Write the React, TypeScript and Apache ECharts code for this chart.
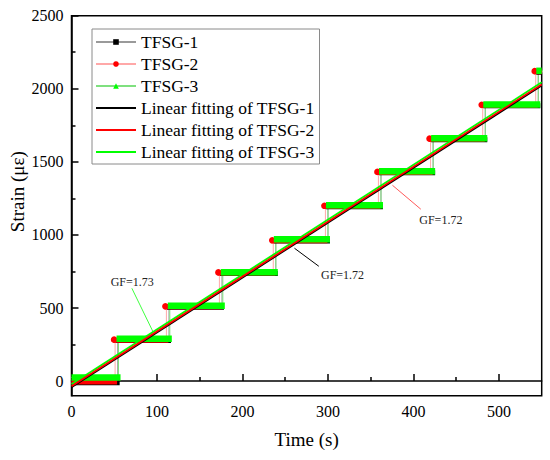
import React, { useEffect, useRef } from "react";
import * as echarts from "echarts";

const FONT = "Liberation Serif";

// axis ticks
const xTicks = [0, 100, 200, 300, 400, 500];
const yTicks = [0, 500, 1000, 1500, 2000, 2500];
const yMinorTicks = [250, 750, 1250, 1750, 2250];

// series names
const seriesNames = ["TFSG-1", "TFSG-2", "TFSG-3"];
const fitNames = [
  "Linear fitting of TFSG-1",
  "Linear fitting of TFSG-2",
  "Linear fitting of TFSG-3",
];

// step jump times (s); last value = end of record
const jumps1 = [0, 54, 114, 176, 239, 300, 362, 423, 484, 546, 553];
const levels1 = [-12, 277, 505, 736, 958, 1192, 1425, 1652, 1884, 2113];
const jumps2 = [0, 51, 111, 173, 236, 297, 359, 420, 481, 543, 553];
const levels2 = [-6, 280, 508, 740, 960, 1196, 1428, 1655, 1887, 2117];
const jumps3 = [0, 55, 115, 177, 239, 300, 362, 423, 484, 546, 553];
const levels3 = [25, 290, 516, 745, 970, 1203, 1435, 1662, 1893, 2123];

// linear fitting end points [time, strain]
const fit1 = [[0, -42], [550, 2022]];
const fit2 = [[0, -36], [550, 2030]];
const fit3 = [[0, -22], [550, 2044]];

// annotation arrows [tail, head] and labels
const arrow1 = [[260.8, 909], [289.3, 785.6]];
const arrow2 = [[375.4, 1340], [408.6, 1176]];
const arrow3 = [[95.5, 335.6], [70.6, 635]];
const gfLabels = ["GF=1.72", "GF=1.72", "GF=1.73"];
const gfPos = [[317, 724], [432, 1105], [71, 675]];

const jumps = [jumps1, jumps2, jumps3];
const levels = [levels1, levels2, levels3];
const fits = [fit1, fit2, fit3];
const arrows = [arrow1, arrow2, arrow3];

const markerColors = ["#000000", "#ff0000", "#00ff00"];
const thinColors = ["#9a9a9a", "#ffa8a8", "#7fe07f"];
const fitColors = ["#000000", "#ff0000", "#00ff00"];
const arrowColors = ["#000000", "#ff5a5a", "#40ff40"];
const symbols = ["rect", "circle", "triangle"];
const bandH = [5, 5, 6.5];

function stepPath(idx: number) {
  const j = jumps[idx];
  const l = levels[idx];
  const pts: number[][] = [];
  for (let i = 0; i < l.length; i++) {
    pts.push([j[i], l[i]]);
    pts.push([j[i + 1], l[i]]);
  }
  return pts;
}

function bandSeries(idx: number) {
  const j = jumps[idx];
  const l = levels[idx];
  const color = markerColors[idx];
  return {
    type: "custom",
    name: seriesNames[idx] + " band",
    data: l.map((v, i) => [j[i], j[i + 1], v]),
    encode: { x: [0, 1], y: 2 },
    z: 3 + idx,
    silent: true,
    renderItem: (params: any, api: any) => {
      const s = api.value(0);
      const e = api.value(1);
      const v = api.value(2);
      const p1 = api.coord([s, v]);
      const p2 = api.coord([e, v]);
      const cs = params.coordSys;
      const h = bandH[idx];
      const rect = echarts.graphic.clipRectByRect(
        { x: p1[0] - 2, y: p1[1] - h / 2, width: p2[0] - p1[0] + 4, height: h },
        { x: cs.x, y: cs.y, width: cs.width, height: cs.height }
      );
      const children: any[] = [];
      if (rect) children.push({ type: "rect", shape: rect, style: { fill: color } });
      if (idx === 1 && s > 0) {
        children.push({
          type: "circle",
          shape: { cx: p1[0] - 1, cy: p1[1] - 0.5, r: 3.3 },
          style: { fill: color },
        });
      }
      return { type: "group", children };
    },
  };
}

function thinSeries(idx: number) {
  return {
    type: "line",
    name: seriesNames[idx],
    data: stepPath(idx),
    symbol: symbols[idx],
    symbolSize: 6,
    showSymbol: false,
    z: 2,
    silent: true,
    itemStyle: { color: markerColors[idx] },
    lineStyle: { color: thinColors[idx], width: 1 },
  };
}

function fitSeries(idx: number) {
  return {
    type: "line",
    name: fitNames[idx],
    data: fits[idx],
    symbol: "none",
    showSymbol: false,
    z: 10 + (idx === 0 ? 0 : idx === 1 ? 2 : 1),
    silent: true,
    itemStyle: { color: fitColors[idx] },
    lineStyle: { color: fitColors[idx], width: 1.8 },
    markLine: {
      silent: true,
      animation: false,
      symbol: ["none", "arrow"],
      symbolSize: [0, 9],
      lineStyle: { color: arrowColors[idx], width: 1, type: "solid" },
      label: { show: false },
      data: [[{ coord: arrows[idx][0] }, { coord: arrows[idx][1] }]],
    },
    markPoint: {
      silent: true,
      animation: false,
      symbol: "rect",
      symbolSize: 1,
      itemStyle: { color: "rgba(0,0,0,0)" },
      label: {
        show: true,
        position: "inside",
        formatter: "{b}",
        fontFamily: FONT,
        fontSize: 12,
        color: "#222",
      },
      data: [{ name: gfLabels[idx], coord: gfPos[idx] }],
    },
  };
}

export default function App() {
  const ref = useRef<HTMLDivElement>(null);
  useEffect(() => {
    if (!ref.current) return;
    const chart = echarts.init(ref.current, undefined, { renderer: "svg" });
    const axisLine = { show: true, lineStyle: { color: "#000", width: 1.5 } };
    const plain = (v: number) => String(v);
    chart.setOption({
      animation: false,
      backgroundColor: "#fff",
      textStyle: { fontFamily: FONT },
      grid: {
        left: 71.5,
        right: 8.3,
        top: 15.7,
        bottom: 64.3,
        show: true,
        borderColor: "#000",
        borderWidth: 1.5,
        backgroundColor: "transparent",
        containLabel: false,
        outerBoundsMode: "none",
      },
      legend: {
        show: true,
        orient: "vertical",
        left: 92,
        top: 29,
        itemWidth: 40,
        itemHeight: 7,
        itemGap: 4,
        padding: [4, 5, 3, 3],
        borderColor: "#8a8a8a",
        borderWidth: 1,
        backgroundColor: "#fff",
        selectedMode: false,
        textStyle: { fontFamily: FONT, fontSize: 17.5, color: "#000", lineHeight: 18 },
        data: [
          { name: seriesNames[0] },
          { name: seriesNames[1] },
          { name: seriesNames[2] },
          { name: fitNames[0], icon: "path://M0,0H40V2H0Z" },
          { name: fitNames[1], icon: "path://M0,0H40V2H0Z" },
          { name: fitNames[2], icon: "path://M0,0H40V2H0Z" },
        ],
      },
      xAxis: {
        type: "value",
        min: 0,
        max: 550,
        interval: 100,
        name: "Time (s)",
        nameLocation: "middle",
        nameGap: 34,
        nameMoveOverlap: false,
        nameTextStyle: { fontFamily: FONT, fontSize: 19, fontWeight: "normal", color: "#000" },
        axisLine,
        axisTick: {
          show: true,
          inside: true,
          length: 7,
          customValues: xTicks,
          lineStyle: { color: "#000", width: 1.5 },
        },
        minorTick: { show: true, splitNumber: 2, length: 4, lineStyle: { color: "#000", width: 1.5 } },
        axisLabel: {
          customValues: xTicks,
          formatter: plain,
          fontFamily: FONT,
          fontSize: 16,
          color: "#000",
          margin: 8,
        },
        splitLine: { show: false },
        minorSplitLine: { show: false },
      },
      yAxis: [
        {
          type: "value",
          min: -100,
          max: 2500,
          name: "Strain (με)",
          nameLocation: "middle",
          nameGap: 45,
          nameMoveOverlap: false,
          nameTextStyle: {
            fontFamily: FONT,
            fontSize: 19,
            fontWeight: "normal",
            color: "#000",
            padding: [0, 0, 0, 28],
          },
          axisLine,
          axisTick: {
            show: true,
            inside: true,
            length: 7,
            customValues: yTicks,
            lineStyle: { color: "#000", width: 1.5 },
          },
          axisLabel: {
            customValues: yTicks,
            formatter: plain,
            fontFamily: FONT,
            fontSize: 16,
            color: "#000",
            margin: 8,
          },
          splitLine: { show: false },
        },
        {
          type: "value",
          min: -100,
          max: 2500,
          position: "left",
          axisLine: { show: false },
          axisTick: {
            show: true,
            inside: true,
            length: 4,
            customValues: yMinorTicks,
            lineStyle: { color: "#000", width: 1.5 },
          },
          axisLabel: { show: false },
          splitLine: { show: false },
        },
      ],
      series: [
        thinSeries(0),
        thinSeries(1),
        thinSeries(2),
        bandSeries(0),
        bandSeries(1),
        bandSeries(2),
        fitSeries(0),
        fitSeries(1),
        fitSeries(2),
      ],
    });
    return () => chart.dispose();
  }, []);
  return (
    <div
      ref={ref}
      style={{ position: "fixed", left: 0, top: 0, width: 550, height: 460, background: "#fff" }}
    />
  );
}
